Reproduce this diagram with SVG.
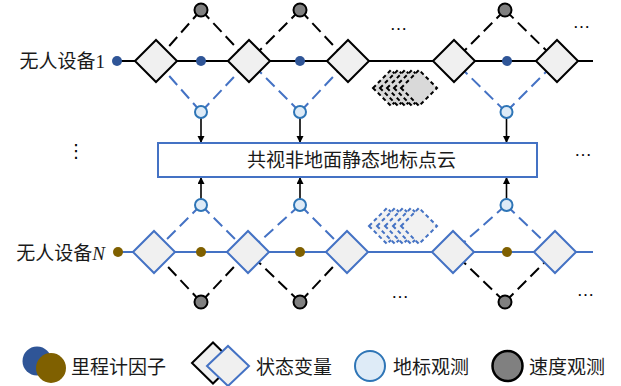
<svg xmlns="http://www.w3.org/2000/svg" width="621" height="386" viewBox="0 0 621 386">
<defs>
<style>
.l1{stroke:#000;stroke-width:2;fill:none}
.l2{stroke:#4472c4;stroke-width:2;fill:none}
.dk{stroke:#000;stroke-width:2;stroke-dasharray:12 6;fill:none}
.db{stroke:#4472c4;stroke-width:2;stroke-dasharray:12 6;fill:none}
.ar{stroke:#000;stroke-width:1.6;fill:none;marker-end:url(#ah)}
.s1{fill:#f0f0f0;stroke:#000;stroke-width:2;stroke-linejoin:miter}
.s2{fill:#f0f0f0;stroke:#4472c4;stroke-width:2;stroke-linejoin:miter}
.k1{fill:#d9d9d9;stroke:#000;stroke-width:2;stroke-dasharray:4 3}
.k2{fill:#f2f2f2;stroke:#4472c4;stroke-width:2;stroke-dasharray:4 3}
.o1{fill:#2f5597}
.o2{fill:#7f6000}
.lm{fill:#deebf7;stroke:#2e75b6;stroke-width:2}
.sp{fill:#808080;stroke:#000;stroke-width:2}
.t{font-family:"Noto Sans CJK SC","Noto Sans",sans-serif;font-size:19px;fill:#1a1a1a}
.e{font-family:"Liberation Serif",serif;font-size:17px;fill:#000}
</style>
<marker id="ah" markerWidth="8" markerHeight="8" refX="7" refY="3.5" orient="auto" markerUnits="userSpaceOnUse">
<path d="M0,0 L7,3.5 L0,7 Z" fill="#000"/>
</marker>
</defs>

<g id="connectors">
<line class="l1" x1="117" y1="61" x2="593" y2="61"/>
<line class="l2" x1="118" y1="252" x2="593" y2="252"/>
<line class="dk" x1="201" y1="10" x2="156" y2="61"/>
<line class="dk" x1="201" y1="10" x2="249" y2="61"/>
<line class="dk" x1="300" y1="10" x2="249" y2="61"/>
<line class="dk" x1="300" y1="10" x2="348" y2="61"/>
<line class="dk" x1="505" y1="10" x2="454" y2="61"/>
<line class="dk" x1="505" y1="10" x2="557" y2="61"/>
<line class="db" x1="201" y1="112" x2="156" y2="61"/>
<line class="db" x1="201" y1="112" x2="249" y2="61"/>
<line class="db" x1="300" y1="112" x2="249" y2="61"/>
<line class="db" x1="300" y1="112" x2="348" y2="61"/>
<line class="db" x1="506" y1="112" x2="454" y2="61"/>
<line class="db" x1="506" y1="112" x2="557" y2="61"/>
<line class="db" x1="201" y1="205" x2="154" y2="252"/>
<line class="db" x1="201" y1="205" x2="248" y2="252"/>
<line class="db" x1="300" y1="205" x2="248" y2="252"/>
<line class="db" x1="300" y1="205" x2="347" y2="252"/>
<line class="db" x1="506" y1="205" x2="453" y2="252"/>
<line class="db" x1="506" y1="205" x2="555" y2="252"/>
<line class="dk" x1="201" y1="302" x2="154" y2="252"/>
<line class="dk" x1="201" y1="302" x2="248" y2="252"/>
<line class="dk" x1="300" y1="302" x2="248" y2="252"/>
<line class="dk" x1="300" y1="302" x2="347" y2="252"/>
<line class="dk" x1="505" y1="302" x2="453" y2="252"/>
<line class="dk" x1="505" y1="302" x2="555" y2="252"/>
<line class="ar" x1="201" y1="118" x2="201" y2="143"/>
<line class="ar" x1="300" y1="118" x2="300" y2="143"/>
<line class="ar" x1="506.5" y1="118" x2="506.5" y2="143"/>
<line class="ar" x1="201" y1="199" x2="201" y2="177"/>
<line class="ar" x1="300" y1="199" x2="300" y2="177"/>
<line class="ar" x1="506.5" y1="199" x2="506.5" y2="177"/>
</g>

<g id="label-uav1"><text class="t" x="105" y="68" text-anchor="end">无人设备<tspan font-family="Liberation Serif, serif">1</tspan></text></g>
<g id="label-uavN"><text class="t" x="105" y="260" text-anchor="end">无人设备<tspan font-family="Liberation Serif, serif" font-style="italic">N</tspan></text></g>

<g id="odo1-0"><circle class="o1" cx="117" cy="61" r="5"/></g>
<g id="odo1-1"><circle class="o1" cx="201" cy="61" r="5"/></g>
<g id="odo1-2"><circle class="o1" cx="300" cy="61" r="5"/></g>
<g id="odo1-3"><circle class="o1" cx="507" cy="61" r="5"/></g>
<g id="odoN-0"><circle class="o2" cx="118" cy="252" r="5"/></g>
<g id="odoN-1"><circle class="o2" cx="201" cy="252" r="5"/></g>
<g id="odoN-2"><circle class="o2" cx="300" cy="252" r="5"/></g>
<g id="odoN-3"><circle class="o2" cx="507" cy="252" r="5"/></g>

<g id="state1-1"><path class="s1" d="M135,61 L156,40 L177,61 L156,82 Z"/></g>
<g id="state1-2"><path class="s1" d="M228,61 L249,40 L270,61 L249,82 Z"/></g>
<g id="state1-3"><path class="s1" d="M327,61 L348,40 L369,61 L348,82 Z"/></g>
<g id="state1-4"><path class="s1" d="M433,61 L454,40 L475,61 L454,82 Z"/></g>
<g id="state1-5"><path class="s1" d="M536,61 L557,40 L578,61 L557,82 Z"/></g>
<g id="stateN-1"><path class="s2" d="M133,252 L154,231 L175,252 L154,273 Z"/></g>
<g id="stateN-2"><path class="s2" d="M227,252 L248,231 L269,252 L248,273 Z"/></g>
<g id="stateN-3"><path class="s2" d="M326,252 L347,231 L368,252 L347,273 Z"/></g>
<g id="stateN-4"><path class="s2" d="M432,252 L453,231 L474,252 L453,273 Z"/></g>
<g id="stateN-5"><path class="s2" d="M534,252 L555,231 L576,252 L555,273 Z"/></g>

<g id="stack1">
<path class="k1" d="M373,88 L391,70 L409,88 L391,106 Z"/>
<path class="k1" d="M380,88 L398,70 L416,88 L398,106 Z"/>
<path class="k1" d="M387,88 L405,70 L423,88 L405,106 Z"/>
<path class="k1" d="M394,88 L412,70 L430,88 L412,106 Z"/>
<path class="k1" d="M401,88 L419,70 L437,88 L419,106 Z"/>
</g>
<g id="stackN">
<path class="k2" d="M369,226 L387,208 L405,226 L387,244 Z"/>
<path class="k2" d="M377,226 L395,208 L413,226 L395,244 Z"/>
<path class="k2" d="M385,226 L403,208 L421,226 L403,244 Z"/>
<path class="k2" d="M393,226 L411,208 L429,226 L411,244 Z"/>
<path class="k2" d="M401,226 L419,208 L437,226 L419,244 Z"/>
</g>

<g id="speed1-1"><circle class="sp" cx="201" cy="10" r="6.5"/></g>
<g id="speed1-2"><circle class="sp" cx="300" cy="10" r="6.5"/></g>
<g id="speed1-3"><circle class="sp" cx="505" cy="10" r="6.5"/></g>
<g id="lm1-1"><circle class="lm" cx="201" cy="112" r="6"/></g>
<g id="lm1-2"><circle class="lm" cx="300" cy="112" r="6"/></g>
<g id="lm1-3"><circle class="lm" cx="506.5" cy="112" r="6"/></g>
<g id="lmN-1"><circle class="lm" cx="201" cy="205" r="6"/></g>
<g id="lmN-2"><circle class="lm" cx="300" cy="205" r="6"/></g>
<g id="lmN-3"><circle class="lm" cx="506.5" cy="205" r="6"/></g>
<g id="speedN-1"><circle class="sp" cx="201" cy="302" r="6.5"/></g>
<g id="speedN-2"><circle class="sp" cx="300" cy="302" r="6.5"/></g>
<g id="speedN-3"><circle class="sp" cx="505" cy="302" r="6.5"/></g>

<g id="cloud">
<rect x="158" y="143" width="379" height="34" fill="#fff" stroke="#4472c4" stroke-width="2"/>
<text class="t" x="351.5" y="166.5" text-anchor="middle">共视非地面静态地标点云</text>
</g>

<g id="ellipses">
<text class="e" x="398.5" y="30" text-anchor="middle">…</text>
<text class="e" x="581.5" y="28" text-anchor="middle">…</text>
<text class="e" x="583" y="156" text-anchor="middle">…</text>
<text class="e" x="400" y="298" text-anchor="middle">…</text>
<text class="e" x="585.5" y="296" text-anchor="middle">…</text>
<text x="76" y="157" text-anchor="middle" font-family="DejaVu Sans, sans-serif" font-size="18">⋮</text>
</g>

<g id="legend">
<circle cx="37" cy="361" r="14.5" fill="#2f5597"/>
<circle cx="51" cy="368" r="15" fill="#7f6000"/>
<text class="t" x="71" y="374">里程计因子</text>
<path d="M192,363 L213,342.5 L234,363 L213,383.5 Z" fill="#f0f0f0" stroke="#000" stroke-width="2"/>
<path d="M207,366 L228,346 L249,366 L228,386 Z" fill="#f0f0f0" stroke="#4472c4" stroke-width="2"/>
<text class="t" x="256" y="374">状态变量</text>
<circle cx="370" cy="366" r="15" class="lm"/>
<text class="t" x="393" y="374">地标观测</text>
<circle cx="507.5" cy="366" r="15" fill="#808080" stroke="#000" stroke-width="2.5"/>
<text class="t" x="529" y="374">速度观测</text>
</g>
</svg>
